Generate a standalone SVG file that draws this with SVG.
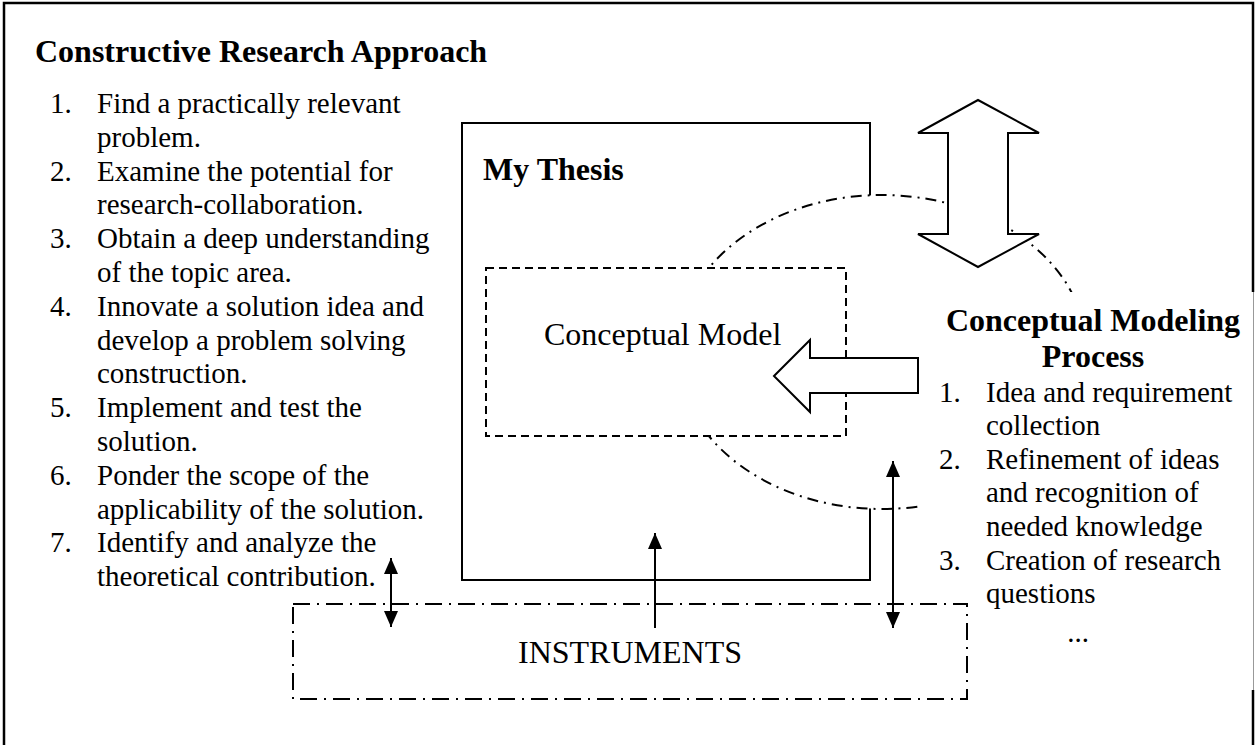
<svg xmlns="http://www.w3.org/2000/svg" width="1258" height="745" viewBox="0 0 1258 745">
  <style>
    text { font-family: "Liberation Serif", "Times New Roman", serif; fill: #000; }
    .b { font-weight: bold; font-size: 32px; }
    .item { font-size: 29px; }
    .lbl { font-size: 32px; }
    .solid { fill: #fff; stroke: #000; stroke-width: 2; }
    .dashed { fill: #fff; stroke: #000; stroke-width: 2; stroke-dasharray: 8 5; }
    .dashdot { fill: #fff; stroke: #000; stroke-width: 2; stroke-dasharray: 11 6 2 6; }
    .dashdot-box { fill: none; stroke: #000; stroke-width: 2; stroke-dasharray: 17 7 2 7; }
    .conn { stroke: #000; stroke-width: 2; fill: none; }
  </style>
  <defs>
    <marker id="ah" viewBox="0 0 16 14" refX="16" refY="7" markerWidth="16" markerHeight="14" orient="auto-start-reverse" markerUnits="userSpaceOnUse">
      <path d="M0,0 L16,7 L0,14 z" fill="#000"/>
    </marker>
  </defs>

  <rect width="1258" height="745" fill="#fff"/>

  <!-- outer frame -->
  <g id="frame" fill="none" stroke="#000" stroke-width="2.5">
    <path d="M4,745 V3 H1253 V292"/>
    <path d="M1253,690 V745"/>
  </g>

  <!-- left column: constructive research approach -->
  <g id="research-approach">
    <text class="b" x="35" y="62">Constructive Research Approach</text>
    <g class="item">
      <text x="50" y="113">1.</text><text x="97" y="113">Find a practically relevant</text>
      <text x="97" y="147">problem.</text>
      <text x="50" y="181">2.</text><text x="97" y="181">Examine the potential for</text>
      <text x="97" y="214">research-collaboration.</text>
      <text x="50" y="248">3.</text><text x="97" y="248">Obtain a deep understanding</text>
      <text x="97" y="282">of the topic area.</text>
      <text x="50" y="316">4.</text><text x="97" y="316">Innovate a solution idea and</text>
      <text x="97" y="350">develop a problem solving</text>
      <text x="97" y="383">construction.</text>
      <text x="50" y="417">5.</text><text x="97" y="417">Implement and test the</text>
      <text x="97" y="451">solution.</text>
      <text x="50" y="485">6.</text><text x="97" y="485">Ponder the scope of the</text>
      <text x="97" y="519">applicability of the solution.</text>
      <text x="50" y="552">7.</text><text x="97" y="552">Identify and analyze the</text>
      <text x="97" y="586">theoretical contribution.</text>
    </g>
  </g>

  <!-- thesis box -->
  <g id="thesis">
    <rect class="solid" x="462" y="123" width="408" height="457"/>
    <text class="b" x="483" y="180">My Thesis</text>
  </g>

  <!-- conceptual modeling scope -->
  <g id="modeling-scope">
    <ellipse class="dashdot" cx="882" cy="352" rx="205" ry="157"/>
  </g>

  <!-- conceptual model -->
  <g id="conceptual-model">
    <rect class="dashed" x="486" y="268" width="360" height="168"/>
    <text class="lbl" x="544" y="345">Conceptual Model</text>
  </g>

  <!-- conceptual modeling process -->
  <g id="modeling-process">
    <rect x="920" y="292" width="333" height="398" fill="#fff"/>
    <line x1="1253.5" y1="292" x2="1253.5" y2="690" stroke="#999" stroke-width="1"/>
    <text class="b" x="1093" y="331" text-anchor="middle">Conceptual Modeling</text>
    <text class="b" x="1093" y="367" text-anchor="middle">Process</text>
    <g class="item">
      <text x="939" y="402">1.</text><text x="986" y="402">Idea and requirement</text>
      <text x="986" y="435">collection</text>
      <text x="939" y="469">2.</text><text x="986" y="469">Refinement of ideas</text>
      <text x="986" y="502">and recognition of</text>
      <text x="986" y="536">needed knowledge</text>
      <text x="939" y="570">3.</text><text x="986" y="570">Creation of research</text>
      <text x="986" y="603">questions</text>
      <text x="1078" y="642" text-anchor="middle">...</text>
    </g>
  </g>

  <!-- instruments -->
  <g id="instruments">
    <rect class="dashdot-box" x="293" y="604" width="674" height="95"/>
    <text class="lbl" x="630" y="663" text-anchor="middle">INSTRUMENTS</text>
  </g>

  <!-- connectors -->
  <g id="connectors">
    <path class="solid" d="M774,376 L810,340 L810,358 L918,358 L918,393 L810,393 L810,412 Z"/>
    <path class="solid" d="M978,100 L1039,133 L1008,133 L1008,234 L1039,234 L978,267 L918,234 L948,234 L948,133 L918,133 Z"/>
    <line class="conn" x1="391" y1="558" x2="391" y2="627" marker-start="url(#ah)" marker-end="url(#ah)"/>
    <line class="conn" x1="655" y1="628" x2="655" y2="533" marker-end="url(#ah)"/>
    <line class="conn" x1="893" y1="461" x2="893" y2="628" marker-start="url(#ah)" marker-end="url(#ah)"/>
  </g>
</svg>
